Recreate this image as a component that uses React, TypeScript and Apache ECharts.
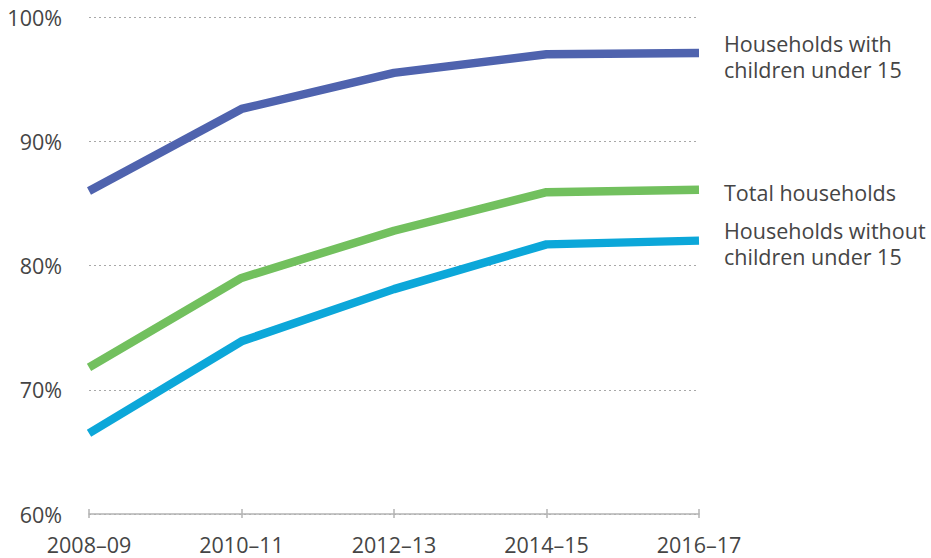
import React, { useEffect, useRef } from "react";
import * as echarts from "echarts";

const categories = ["2008–09", "2010–11", "2012–13", "2014–15", "2016–17"];
const withChildren = [86.0, 92.6, 95.5, 97.0, 97.1];
const totalHouseholds = [71.8, 79.0, 82.8, 85.9, 86.1];
const withoutChildren = [66.5, 73.9, 78.1, 81.7, 82.0];
const seriesNames = [
  "Households with\nchildren under 15",
  "Total households",
  "Households without\nchildren under 15",
];
const yTicks = [60, 70, 80, 90, 100];

const FONT = "'Open Sans', 'Noto Sans', sans-serif";
const TEXT = "#454545";
const FS = 21.5;

export default function App() {
  const ref = useRef<HTMLDivElement>(null);
  useEffect(() => {
    if (!ref.current) return;
    const chart = echarts.init(ref.current, null, { renderer: "svg" });
    const mk = (name: string, data: number[], color: string) => ({
      type: "line",
      name,
      data,
      symbol: "none",
      lineStyle: { color, width: 8.4, cap: "butt", join: "round" },
      itemStyle: { color },
      endLabel: {
        show: true,
        formatter: () => name,
        distance: 25,
        offset: [0, 3],
        color: TEXT,
        fontFamily: FONT,
        fontSize: FS,
        lineHeight: 26,
        align: "left",
      },
      z: 3,
    });
    chart.setOption({
      animation: false,
      textStyle: { fontFamily: FONT },
      grid: { left: 89, right: 232, top: 17, bottom: 44, containLabel: false },
      xAxis: [
        {
          type: "category",
          data: categories,
          boundaryGap: false,
          position: "bottom",
          axisLine: { show: true, lineStyle: { color: "#b3b3b3", width: 1.5 } },
          axisTick: { show: true, length: 4, lineStyle: { color: "#b3b3b3", width: 1.5 } },
          axisLabel: {
            color: TEXT,
            fontSize: FS,
            fontFamily: FONT,
            margin: 19,
          },
          splitLine: { show: false },
        },
        {
          type: "category",
          data: categories,
          boundaryGap: false,
          position: "bottom",
          axisLine: { show: false },
          axisTick: { show: true, inside: true, length: 5, lineStyle: { color: "#b3b3b3", width: 1.5 } },
          axisLabel: { show: false },
          splitLine: { show: false },
        },
      ],
      yAxis: {
        type: "value",
        min: yTicks[0],
        max: yTicks[yTicks.length - 1],
        interval: 10,
        axisLine: { show: false },
        axisTick: { show: false },
        axisLabel: {
          color: TEXT,
          fontSize: FS,
          fontFamily: FONT,
          margin: 27,
          formatter: (v: number) => `${v}%`,
        },
        splitLine: {
          show: true,
          lineStyle: { color: "#a8a8a8", width: 1, type: [2, 3] },
        },
      },
      series: [
        mk(seriesNames[0], withChildren, "#4f63ae"),
        mk(seriesNames[1], totalHouseholds, "#72c05e"),
        mk(seriesNames[2], withoutChildren, "#0ca7d9"),
      ],
    });
    return () => chart.dispose();
  }, []);
  return <div ref={ref} style={{ width: 931, height: 558, position: "absolute", left: 0, top: 0 }} />;
}
